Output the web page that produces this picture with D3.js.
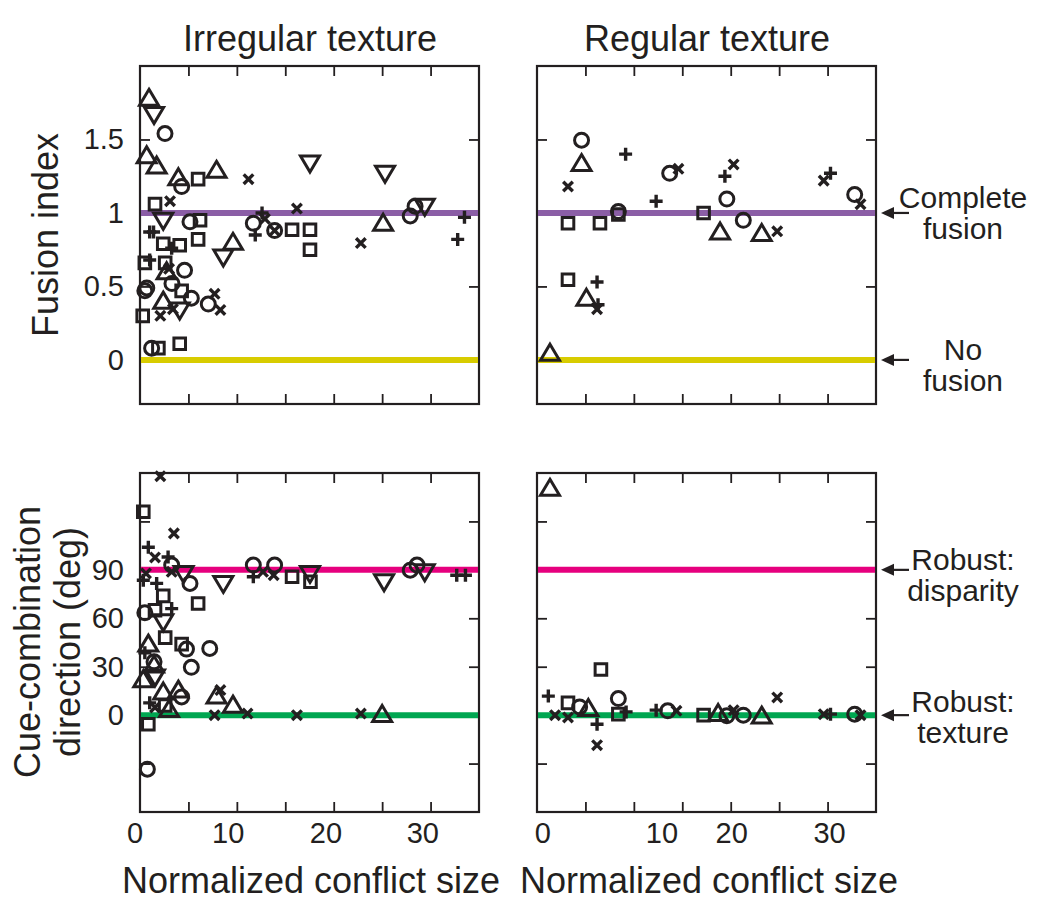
<!DOCTYPE html>
<html>
<head>
<meta charset="utf-8">
<script src="https://cdn.jsdelivr.net/npm/d3@7"></script>
<style>
  body { margin: 0; background: #fff; }
  text { font-family: "Liberation Sans", Arial, sans-serif; fill: #231f20; }
</style>
</head>
<body>
<div class="canvas"></div>
<script>
// ---- data: [conflict size, value] per observer symbol ----
// irregular texture, fusion index
const irrFusTriUp = [[0.93,1.78],[0.69,1.39],[1.72,1.32],[3.96,1.24],[7.9,1.29],[9.6,0.80],[2.75,0.60],[2.4,0.40],[25.1,0.93]];
const irrFusTriDown = [[1.45,1.67],[2.4,0.95],[8.6,0.70],[4.1,0.34],[17.55,1.34],[25.3,1.27],[29.4,1.045]];
const irrFusCircle = [[2.58,1.54],[4.3,1.18],[5.16,0.94],[11.7,0.93],[13.9,0.88],[4.6,0.61],[3.3,0.52],[0.5,0.47],[0.7,0.49],[5.3,0.42],[7.05,0.38],[1.2,0.08],[27.9,0.98],[28.4,1.045]];
const irrFusSquare = [[6.0,1.23],[1.55,1.06],[6.2,0.95],[15.7,0.886],[17.55,0.886],[17.55,0.75],[6.0,0.82],[2.4,0.79],[4.1,0.78],[0.5,0.66],[2.6,0.66],[4.3,0.47],[0.28,0.30],[1.9,0.08],[4.1,0.11]];
const irrFusPlus = [[1.0,0.87],[1.4,0.87],[11.9,0.85],[12.6,1.0],[3.27,0.76],[1.0,0.68],[33.5,0.97],[32.8,0.82]];
const irrFusCross = [[11.2,1.23],[3.1,1.08],[16.2,1.03],[12.9,0.96],[7.7,0.45],[8.3,0.34],[3.4,0.345],[2.1,0.30],[22.8,0.795],[13.9,0.88],[3.0,0.62]];

// regular texture, fusion index
const regFusTriUp = [[4.6,1.336],[5.1,0.42],[1.34,0.045],[18.9,0.87],[23.2,0.86]];
const regFusCircle = [[4.6,1.495],[13.7,1.27],[8.4,1.01],[19.6,1.095],[21.3,0.95],[32.8,1.125]];
const regFusSquare = [[3.2,0.93],[6.5,0.93],[8.4,0.99],[17.2,1.0],[3.2,0.545]];
const regFusPlus = [[9.15,1.40],[12.3,1.08],[6.2,0.53],[6.3,0.375],[19.4,1.25],[30.3,1.27]];
const regFusCross = [[3.2,1.18],[14.6,1.30],[6.2,0.345],[20.3,1.33],[24.8,0.875],[29.6,1.22],[33.4,1.06]];

// irregular texture, cue-combination direction (deg)
const irrDirTriUp = [[0.86,44],[1.45,31],[0.34,22],[2.4,14.4],[3.96,15.5],[7.9,11.8],[9.6,6.2],[3.0,3.5],[25.0,0.4]];
const irrDirTriDown = [[4.5,87.8],[8.6,81.6],[2.4,57.8],[1.55,23.7],[17.55,87.8],[25.2,82.6],[29.4,88.8]];
const irrDirCircle = [[3.27,93],[5.16,81.6],[11.7,93],[13.9,93],[0.5,63.4],[4.8,40.9],[7.2,41.3],[1.45,33],[5.3,29.6],[4.3,11.3],[0.76,-33.5],[27.9,89.8],[28.6,93]];
const irrDirSquare = [[0.34,126],[15.7,85.7],[2.4,73.9],[6.0,69.2],[1.55,65],[2.6,48],[4.3,44],[0.86,-5.6],[17.6,82.6],[2.6,6]];
const irrDirPlus = [[0.86,104],[2.9,98],[0.34,83.6],[1.72,81.6],[11.7,85.7],[3.27,66],[0.5,38.6],[1.0,7.6],[32.7,86.7],[33.6,86.7]];
const irrDirCross = [[2.1,148],[3.5,112.6],[1.55,97.7],[3.27,88.8],[0.62,87.8],[12.7,88.8],[13.8,86.7],[8.3,15.5],[1.55,4.8],[7.7,0],[11.1,1],[16.2,0],[22.8,1]];

// regular texture, cue-combination direction (deg)
const regDirTriUp = [[1.34,140.5],[5.3,4.1],[18.7,1],[23.2,-0.6]];
const regDirCircle = [[4.4,5.1],[8.4,10.3],[13.5,2.7],[19.6,-0.4],[21.3,0],[32.8,0.6]];
const regDirSquare = [[3.2,7.6],[6.6,28.3],[8.4,0.6],[17.2,0]];
const regDirPlus = [[1.17,11.8],[6.2,-5.6],[9.2,2],[12.3,3.1],[30.3,0.6]];
const regDirCross = [[1.86,0],[3.2,-1.4],[6.2,-18.6],[14.4,2.7],[20.3,3.1],[24.8,11],[29.6,0.6],[33.4,0]];

// axes
const xTickVals = [5,10,15,20,25,30];
const xLabels = ['0','10','20','30'];
const irrLabelAt = [-0.5,9.1,19.2,29.2];   // where the labels sit in the original
const regLabelAt = [0.6,12.9,20.1,30.2];
const fusTicks = [0,0.5,1,1.5];
const fusLabels = ['0','0.5','1','1.5'];
const dirTicks = [-30,0,30,60,90,120];
const dirLabelVals = [0,30,60,90];

const svg = d3.select('.canvas')
  .append('svg')
    .attr('width', 1050)
    .attr('height', 909);

const xIrr = d3.scaleLinear().domain([0,35]).range([140,479]);
const xReg = d3.scaleLinear().domain([0,35]).range([537,876]);
const yFus = d3.scaleLinear().domain([-0.3,2.0]).range([404,66]);
const yDir = d3.scaleLinear().domain([-60,150]).range([812,473]);

const ink = '#231f20';

function panel(x, y, yTicks) {
  const g = svg.append('g');
  const [x0, x1] = x.range();
  const [y1, y0] = y.range();
  // inward ticks on all sides
  g.append('g').attr('transform', `translate(0,${y1})`)
    .call(d3.axisBottom(x).tickValues(xTickVals).tickSize(-10).tickFormat(''));
  g.append('g').attr('transform', `translate(0,${y0})`)
    .call(d3.axisTop(x).tickValues(xTickVals).tickSize(-10).tickFormat(''));
  g.append('g').attr('transform', `translate(${x0},0)`)
    .call(d3.axisLeft(y).tickValues(yTicks).tickSize(-10).tickFormat(''));
  g.append('g').attr('transform', `translate(${x1},0)`)
    .call(d3.axisRight(y).tickValues(yTicks).tickSize(-10).tickFormat(''));
  g.selectAll('.domain').remove();
  g.selectAll('.tick line').attr('stroke', ink).attr('stroke-width', 1.8);
  g.append('rect')
    .attr('x', x0).attr('y', y0)
    .attr('width', x1 - x0).attr('height', y1 - y0)
    .attr('fill', 'none').attr('stroke', ink).attr('stroke-width', 2.2);
  return g;
}

function refLine(g, x, y, v, color) {
  g.append('line')
    .attr('x1', x.range()[0] + 1).attr('x2', x.range()[1] - 1)
    .attr('y1', y(v)).attr('y2', y(v))
    .attr('stroke', color).attr('stroke-width', 6);
}

const shapes = {
  triUp: 'M0,-9L9.5,7L-9.5,7Z',
  triDown: 'M0,9L9.5,-7L-9.5,-7Z',
  circle: 'M7,0A7,7 0 1,1 -7,0A7,7 0 1,1 7,0Z',
  square: 'M-5.8,-5.8H5.8V5.8H-5.8Z',
  plus: 'M-6.5,0H6.5M0,-6.5V6.5',
  cross: 'M-4.8,-4.8L4.8,4.8M-4.8,4.8L4.8,-4.8'
};

function dots(g, data, kind, x, y) {
  g.selectAll(null)
    .data(data)
    .enter()
    .append('path')
      .attr('d', shapes[kind])
      .attr('transform', d => `translate(${x(d[0])},${y(d[1])})`)
      .attr('fill', 'none')
      .attr('stroke', ink)
      .attr('stroke-width', kind === 'plus' || kind === 'cross' ? 3.4 : 3)
      .attr('stroke-linejoin', 'miter');
}

// panels
const p1 = panel(xIrr, yFus, fusTicks);
const p2 = panel(xReg, yFus, fusTicks);
const p3 = panel(xIrr, yDir, dirTicks);
const p4 = panel(xReg, yDir, dirTicks);

refLine(p1, xIrr, yFus, 1, '#8b5ea6');
refLine(p1, xIrr, yFus, 0, '#d8cc00');
refLine(p2, xReg, yFus, 1, '#8b5ea6');
refLine(p2, xReg, yFus, 0, '#d8cc00');
refLine(p3, xIrr, yDir, 90, '#e6007e');
refLine(p3, xIrr, yDir, 0, '#00a651');
refLine(p4, xReg, yDir, 90, '#e6007e');
refLine(p4, xReg, yDir, 0, '#00a651');

dots(p1, irrFusTriUp, 'triUp', xIrr, yFus);
dots(p1, irrFusTriDown, 'triDown', xIrr, yFus);
dots(p1, irrFusCircle, 'circle', xIrr, yFus);
dots(p1, irrFusSquare, 'square', xIrr, yFus);
dots(p1, irrFusPlus, 'plus', xIrr, yFus);
dots(p1, irrFusCross, 'cross', xIrr, yFus);

dots(p2, regFusTriUp, 'triUp', xReg, yFus);
dots(p2, regFusCircle, 'circle', xReg, yFus);
dots(p2, regFusSquare, 'square', xReg, yFus);
dots(p2, regFusPlus, 'plus', xReg, yFus);
dots(p2, regFusCross, 'cross', xReg, yFus);

dots(p3, irrDirTriUp, 'triUp', xIrr, yDir);
dots(p3, irrDirTriDown, 'triDown', xIrr, yDir);
dots(p3, irrDirCircle, 'circle', xIrr, yDir);
dots(p3, irrDirSquare, 'square', xIrr, yDir);
dots(p3, irrDirPlus, 'plus', xIrr, yDir);
dots(p3, irrDirCross, 'cross', xIrr, yDir);

dots(p4, regDirTriUp, 'triUp', xReg, yDir);
dots(p4, regDirCircle, 'circle', xReg, yDir);
dots(p4, regDirSquare, 'square', xReg, yDir);
dots(p4, regDirPlus, 'plus', xReg, yDir);
dots(p4, regDirCross, 'cross', xReg, yDir);

// tick labels
svg.selectAll('.fl')
  .data(fusTicks)
  .enter().append('text')
    .attr('x', 124).attr('y', d => yFus(d) + 10)
    .attr('text-anchor', 'end').attr('font-size', 29)
    .text((d, i) => fusLabels[i]);

svg.selectAll('.dl')
  .data(dirLabelVals)
  .enter().append('text')
    .attr('x', 124).attr('y', d => yDir(d) + 10)
    .attr('text-anchor', 'end').attr('font-size', 29)
    .text(d => d);

[[xIrr, irrLabelAt], [xReg, regLabelAt]].forEach(([x, at]) => {
  svg.append('g').selectAll('text')
    .data(at)
    .enter().append('text')
      .attr('x', d => x(d)).attr('y', 843)
      .attr('text-anchor', 'middle').attr('font-size', 29)
      .text((d, i) => xLabels[i]);
});

// titles
svg.append('text').attr('x', 310).attr('y', 51).attr('text-anchor', 'middle')
  .attr('font-size', 36).text('Irregular texture');
svg.append('text').attr('x', 707).attr('y', 51).attr('text-anchor', 'middle')
  .attr('font-size', 36).text('Regular texture');

svg.append('text').attr('x', 311).attr('y', 893).attr('text-anchor', 'middle')
  .attr('font-size', 36).text('Normalized conflict size');
svg.append('text').attr('x', 709).attr('y', 893).attr('text-anchor', 'middle')
  .attr('font-size', 36).text('Normalized conflict size');

svg.append('text')
  .attr('transform', 'translate(58,235) rotate(-90)')
  .attr('text-anchor', 'middle').attr('font-size', 36)
  .text('Fusion index');
svg.append('text')
  .attr('transform', 'translate(40,642) rotate(-90)')
  .attr('text-anchor', 'middle').attr('font-size', 36)
  .text('Cue-combination');
svg.append('text')
  .attr('transform', 'translate(80,642) rotate(-90)')
  .attr('text-anchor', 'middle').attr('font-size', 36)
  .text('direction (deg)');

// right-hand annotations with arrows
function note(y, v, lines, textY) {
  const yy = y(v);
  svg.append('line')
    .attr('x1', 909).attr('x2', 890).attr('y1', yy).attr('y2', yy)
    .attr('stroke', ink).attr('stroke-width', 2.2);
  svg.append('path')
    .attr('d', `M881,${yy}L894,${yy - 6}L894,${yy + 6}Z`)
    .attr('fill', ink);
  lines.forEach((t, i) => {
    svg.append('text')
      .attr('x', 963).attr('y', textY + i * 31)
      .attr('text-anchor', 'middle').attr('font-size', 30)
      .text(t);
  });
}
note(yFus, 1, ['Complete', 'fusion'], 208);
note(yFus, 0, ['No', 'fusion'], 360);
note(yDir, 90, ['Robust:', 'disparity'], 570);
note(yDir, 0, ['Robust:', 'texture'], 712);
</script>
</body>
</html>
